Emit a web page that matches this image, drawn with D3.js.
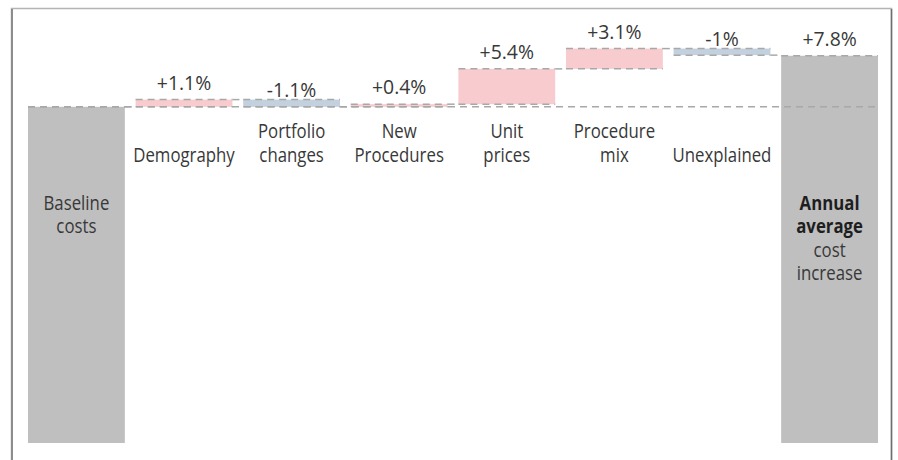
<!DOCTYPE html>
<html>
<head>
<meta charset="utf-8">
<script src="https://cdn.jsdelivr.net/npm/d3@7"></script>
<style>
    body { margin: 0; background: #fff; }
    svg { display: block; font-family: "Open Sans", "Noto Sans", sans-serif; }
</style>
</head>
<body>
<div id="chart"></div>
<script>
// ===========================
// Cost increase waterfall
// ===========================

const categories = ['Baseline costs', 'Demography', 'Portfolio changes', 'New Procedures',
    'Unit prices', 'Procedure mix', 'Unexplained', 'Annual average cost increase'];
const labelLines = [['Baseline', 'costs'], ['Demography'], ['Portfolio', 'changes'], ['New', 'Procedures'],
    ['Unit', 'prices'], ['Procedure', 'mix'], ['Unexplained'], ['Annual', 'average', 'cost', 'increase']];
const boldLines = [0, 0, 0, 0, 0, 0, 0, 2];   // number of bold lines per label
const changes = [1.1, -1.1, 0.4, 5.4, 3.1, -1.0];
const valueLabels = ['+1.1%', '-1.1%', '+0.4%', '+5.4%', '+3.1%', '-1%', '+7.8%'];
const baselineIndex = 100;
const totalChange = 7.8;
const axisFloor = 48.6;

const width = 898, height = 460;
const colors = { total: '#bfbfbf', up: '#f8cbce', down: '#c3d1df', dash: '#a8a8a8', text: '#383838' };
const squeeze = 0.84;   // labels are narrower than the font

// build bars from the data
let running = baselineIndex;
const bars = [{ key: categories[0], type: 'total', y0: axisFloor, y1: baselineIndex }];
changes.forEach((c, i) => {
    bars.push({ key: categories[i + 1], type: c >= 0 ? 'up' : 'down', y0: running, y1: running + c, label: valueLabels[i] });
    running += c;
});
bars.push({ key: categories[7], type: 'total', y0: axisFloor, y1: baselineIndex + totalChange, label: valueLabels[6] });

const x = d3.scaleBand()
    .domain(categories)
    .range([28, 878])
    .paddingInner(0.1)
    .paddingOuter(0);

const y = d3.scaleLinear()
    .domain([axisFloor, 110])
    .range([443, 41.4]);

const svg = d3.select('#chart')
    .append('svg')
    .attr('width', width)
    .attr('height', height);

// frame (open at the bottom)
const frame = svg.append('g').attr('fill', 'none');
frame.append('path')
    .attr('d', 'M11.5,470 V8.5 H891.5 V470')
    .attr('stroke', '#b4b4b4')
    .attr('stroke-width', 1.5);
frame.append('line')
    .attr('x1', 12).attr('x2', 12).attr('y1', 9).attr('y2', 470)
    .attr('stroke', '#8c8c8c').attr('stroke-width', 2);
frame.append('line')
    .attr('x1', 891.5).attr('x2', 891.5).attr('y1', 9).attr('y2', 470)
    .attr('stroke', '#6e6e6e').attr('stroke-width', 1.5);

// bars
svg.selectAll('rect.bar')
    .data(bars)
    .join('rect')
    .attr('class', 'bar')
    .attr('x', d => x(d.key))
    .attr('width', x.bandwidth())
    .attr('y', d => y(Math.max(d.y0, d.y1)))
    .attr('height', d => Math.max(1, Math.abs(y(d.y0) - y(d.y1))))
    .attr('fill', d => colors[d.type]);

// dashed guide lines
const dashes = svg.append('g')
    .attr('stroke', colors.dash)
    .attr('stroke-width', 1.5)
    .attr('stroke-dasharray', '7,5')
    .attr('fill', 'none');

dashes.append('line')
    .attr('x1', x(categories[0])).attr('x2', x(categories[7]) + x.bandwidth())
    .attr('y1', y(baselineIndex)).attr('y2', y(baselineIndex));

bars.forEach((d, i) => {
    const x0 = x(d.key);
    const top = d.type === 'total' ? d.y1 : Math.max(d.y0, d.y1);
    const bottom = Math.min(d.y0, d.y1);
    // edge along the bar
    dashes.append('line')
        .attr('x1', x0).attr('x2', x0 + x.bandwidth())
        .attr('y1', y(top)).attr('y2', y(top));
    if (d.type !== 'total') {
        dashes.append('line')
            .attr('x1', x0).attr('x2', x0 + x.bandwidth())
            .attr('y1', y(bottom)).attr('y2', y(bottom));
    }
    // connector to the next bar at the running level
    if (i < bars.length - 1) {
        dashes.append('line')
            .attr('x1', x0 + x.bandwidth()).attr('x2', x(bars[i + 1].key))
            .attr('y1', y(d.y1)).attr('y2', y(d.y1));
    }
});

// value labels
svg.selectAll('text.value')
    .data(bars.filter(d => d.label))
    .join('text')
    .attr('class', 'value')
    .attr('transform', d => `translate(${x(d.key) + x.bandwidth() / 2},${y(Math.max(d.y0, d.y1)) - (d.type === 'down' ? 3 : 10)}) scale(0.97,1)`)
    .attr('text-anchor', 'middle')
    .attr('font-size', '20px')
    .attr('fill', colors.text)
    .text(d => d.label);

// category labels (one text per category, one tspan per line)
bars.forEach((d, i) => {
    const lines = labelLines[i];
    const cx = x(d.key) + x.bandwidth() / 2;
    const step = d.type === 'total' ? 23.5 : 24;
    const firstY = d.type === 'total' ? 210 : 162 - (lines.length - 1) * step;
    const t = svg.append('text')
        .attr('transform', `translate(${cx},${firstY}) scale(${squeeze},1)`)
        .attr('text-anchor', 'middle')
        .attr('font-size', '20px')
        .attr('fill', colors.text);
    lines.forEach((ln, j) => {
        const bold = j < boldLines[i];
        t.append('tspan')
            .attr('x', 0)
            .attr('y', j * step)
            .attr('font-weight', bold ? 700 : 400)
            .attr('fill', bold ? '#1e1e1e' : colors.text)
            .text(ln);
    });
});
</script>
</body>
</html>
